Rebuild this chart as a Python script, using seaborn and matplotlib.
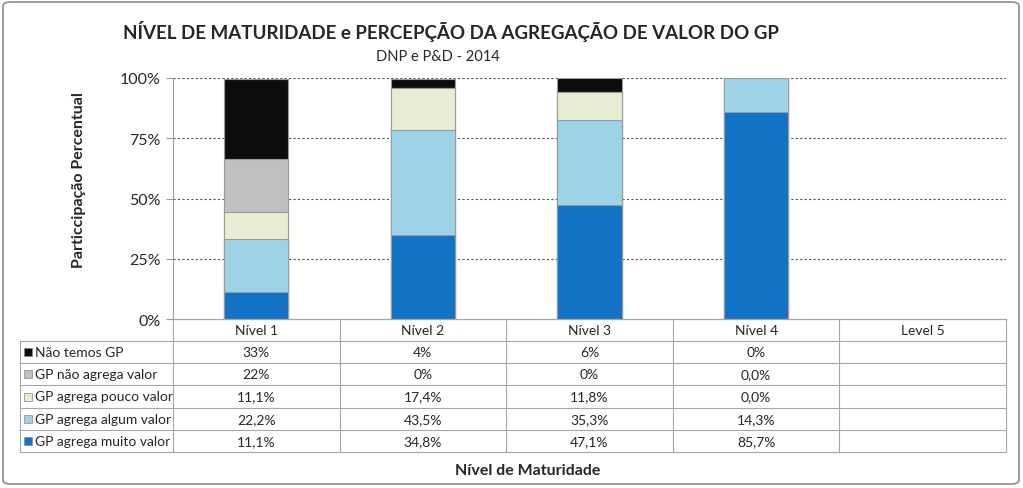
import matplotlib
matplotlib.use("Agg")
import matplotlib.pyplot as plt
import seaborn as sns
import numpy as np
import pandas as pd
from matplotlib.patches import Rectangle, FancyBboxPatch
from matplotlib.lines import Line2D

sns.set_style("white")
plt.rcParams['font.family'] = ['Lato', 'DejaVu Sans']

categories = ["Nível 1", "Nível 2", "Nível 3", "Nível 4", "Level 5"]
series_names = ["Não temos GP", "GP não agrega valor", "GP agrega pouco valor",
                "GP agrega algum valor", "GP agrega muito valor"]
nao_temos = [33.0, 4.0, 6.0, 0.0, np.nan]
nao_agrega = [22.0, 0.0, 0.0, 0.0, np.nan]
pouco = [11.1, 17.4, 11.8, 0.0, np.nan]
algum = [22.2, 43.5, 35.3, 14.3, np.nan]
muito = [11.1, 34.8, 47.1, 85.7, np.nan]
table_text = [
    ["33%", "4%", "6%", "0%", ""],
    ["22%", "0%", "0%", "0,0%", ""],
    ["11,1%", "17,4%", "11,8%", "0,0%", ""],
    ["22,2%", "43,5%", "35,3%", "14,3%", ""],
    ["11,1%", "34,8%", "47,1%", "85,7%", ""],
]
colors = ["#0d0d0d", "#c0c0c0", "#e6edd3", "#9dd3e6", "#1272c6"]

W, H = 1023, 489
fig = plt.figure(figsize=(W / 100, H / 100), dpi=100)

def fx(px):
    return px / W

def fy(py):
    return 1 - py / H

ax_l, ax_r, ax_t, ax_b = 173, 1006, 79, 320
ax = fig.add_axes([fx(ax_l), fy(ax_b), fx(ax_r - ax_l), fy(ax_t) - fy(ax_b)])

# stacking bottom->top: muito, algum, pouco, nao_agrega, nao_temos
stack = [muito, algum, pouco, nao_agrega, nao_temos]
stack_colors = colors[::-1]
cum = np.zeros(len(categories))
cums = []
for s in stack:
    cum = cum + np.array(s, dtype=float)
    cums.append(cum.copy())
for vals, col in reversed(list(zip(cums, stack_colors))):
    df = pd.DataFrame({"cat": categories, "val": vals})
    sns.barplot(data=df, x="cat", y="val", order=categories, color=col,
                width=0.385, edgecolor="#9a9a9a", linewidth=0.8, ax=ax,
                saturation=1)

ax.set_ylim(0, 100)
ax.set_xlim(-0.5, 4.5)
ax.set_yticks([0, 25, 50, 75, 100])
ax.set_yticklabels(["0%", "25%", "50%", "75%", "100%"], fontsize=11.5)
ax.set_xticks([])
ax.set_xlabel("")
ax.set_ylabel("")
for y in [25, 50, 75, 100]:
    ax.axhline(y, color="#555555", linestyle=(0, (2, 2)), linewidth=0.8, zorder=0)
for sp in ["top", "right"]:
    ax.spines[sp].set_visible(False)
ax.spines["left"].set_color("#999999")
ax.spines["bottom"].set_color("#999999")
ax.tick_params(axis="y", length=5, color="#999999", left=True, pad=4)

# Data table
row_y = [320, 342, 364, 386, 409, 431, 453]
col_x = [ax_l + i * (ax_r - ax_l) / 5 for i in range(6)]
lc = "#a6a6a6"
for y in row_y:
    x0 = ax_l if y == row_y[0] else 20
    fig.add_artist(Line2D([fx(x0), fx(ax_r)], [fy(y), fy(y)], color=lc, lw=0.8))
fig.add_artist(Line2D([fx(20), fx(20)], [fy(row_y[1]), fy(row_y[-1])], color=lc, lw=0.8))
for x in col_x:
    fig.add_artist(Line2D([fx(x), fx(x)], [fy(row_y[0]), fy(row_y[-1])], color=lc, lw=0.8))

for i, c in enumerate(categories):
    fig.text(fx((col_x[i] + col_x[i + 1]) / 2), fy((row_y[0] + row_y[1]) / 2), c,
             ha="center", va="center", fontsize=10)
for r, name in enumerate(series_names):
    yc = (row_y[r + 1] + row_y[r + 2]) / 2
    fig.add_artist(Rectangle((fx(24), fy(yc + 4)), fx(8), fy(yc - 4) - fy(yc + 4),
                             facecolor=colors[r], edgecolor="#888888", lw=0.5))
    fig.text(fx(35), fy(yc), name, ha="left", va="center", fontsize=10)
    for i in range(5):
        fig.text(fx((col_x[i] + col_x[i + 1]) / 2), fy(yc), table_text[r][i],
                 ha="center", va="center", fontsize=10)

# Titles
fig.text(fx(451), fy(31), "NÍVEL DE MATURIDADE e PERCEPÇÃO DA AGREGAÇÃO DE VALOR DO GP",
         ha="center", va="center", fontsize=13.5, fontweight="bold")
fig.text(fx(438), fy(57), "DNP e P&D - 2014", ha="center", va="center", fontsize=10.5)
fig.text(fx(79), fy(180), "Particcipação Percentual", ha="center", va="center",
         rotation=90, fontsize=11.5, fontweight="bold")
fig.text(fx(528), fy(471), "Nível de Maturidade", ha="center", va="center",
         fontsize=11.5, fontweight="bold")

# outer frame
fig.add_artist(FancyBboxPatch((fx(3), fy(485)), fx(1016), fy(3) - fy(485),
                              boxstyle="round,pad=0,rounding_size=0.008",
                              facecolor="none", edgecolor="#8c8c8c", lw=1.2))

fig.savefig("out.png", dpi=100)
